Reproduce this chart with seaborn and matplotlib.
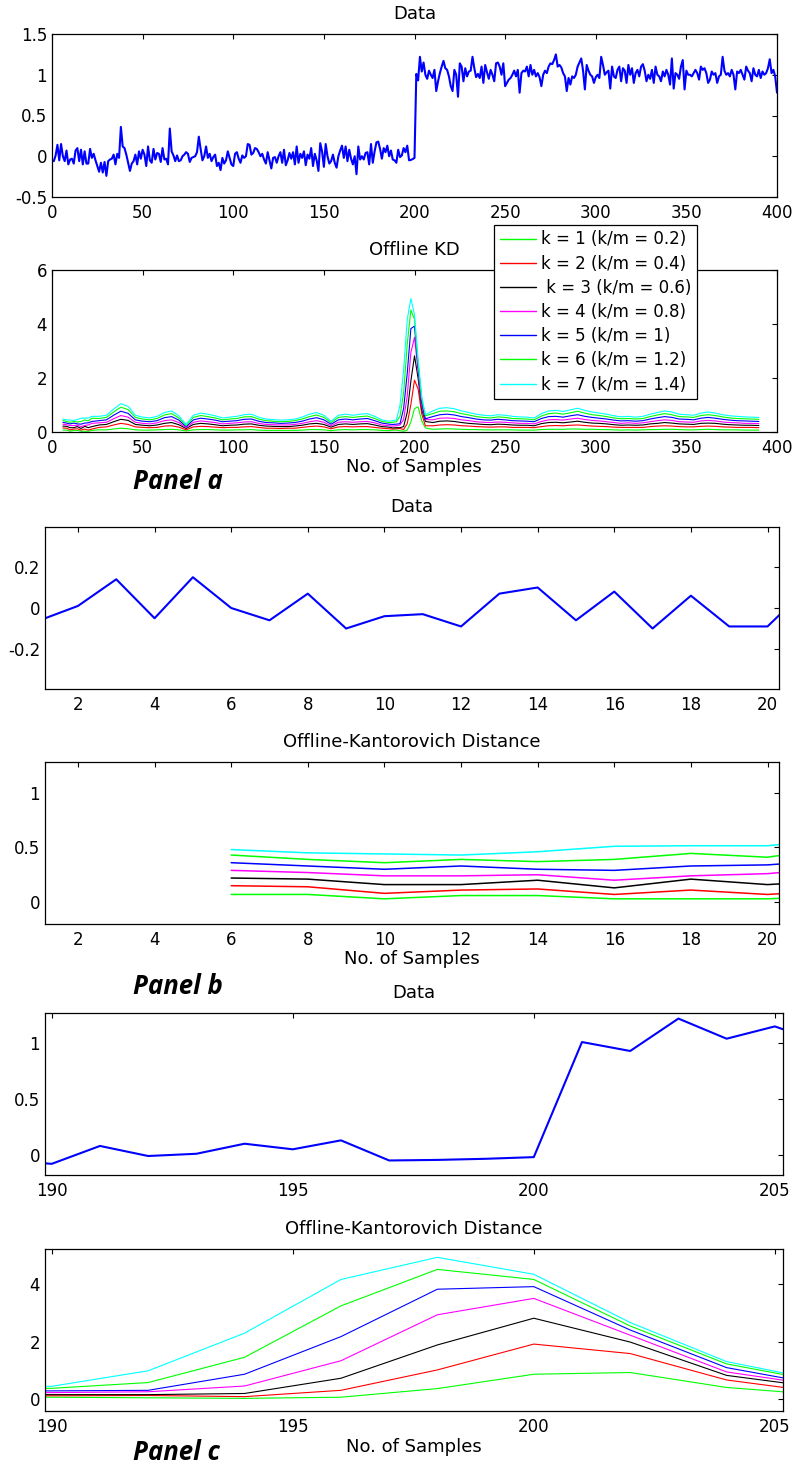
import matplotlib
matplotlib.use("Agg")
import matplotlib.pyplot as plt
from matplotlib.ticker import FuncFormatter
import seaborn as sns
import pandas as pd

# ---------------- data ----------------
data_values = [
    -0.06, 0.01, 0.14, -0.05, 0.15, 0.00, -0.06, 0.07, -0.10, -0.04, -0.03, -0.09, 0.07, 0.10, -0.06, 0.08, -0.10, 0.06, -0.09, -0.09,
    0.09, -0.02, 0.03, -0.05, -0.12, -0.19, -0.08, -0.20, -0.07, -0.24, -0.06, -0.04, -0.03, 0.02, -0.10, 0.03, -0.02, 0.36, 0.12, 0.10,
    0.02, -0.08, -0.18, -0.09, -0.06, 0.02, -0.10, 0.06, -0.03, 0.08, 0.02, -0.12, 0.12, -0.05, -0.08, 0.09, -0.04, 0.04, 0.03, -0.07,
    0.10, -0.04, -0.03, -0.10, 0.34, 0.06, 0.01, -0.06, 0.01, -0.06, -0.05, 0.00, 0.02, 0.05, 0.03, -0.07, -0.02, -0.01, 0.00, 0.05,
    0.24, 0.09, -0.05, 0.00, 0.12, -0.02, 0.03, -0.06, -0.01, 0.02, -0.12, -0.08, -0.17, -0.02, -0.09, -0.05, 0.06, -0.02, -0.10, -0.12,
    0.03, 0.05, -0.03, -0.08, 0.01, -0.02, 0.00, 0.15, 0.14, 0.02, 0.04, 0.10, 0.09, 0.05, 0.00, 0.03, -0.04, -0.09, 0.05, -0.05,
    -0.15, -0.02, -0.01, -0.08, 0.00, 0.05, -0.08, 0.08, -0.11, -0.05, 0.04, -0.03, 0.05, -0.10, 0.12, -0.08, 0.03, -0.02, 0.06, -0.11,
    0.02, -0.03, 0.10, -0.12, 0.03, -0.05, -0.18, 0.16, 0.06, -0.13, 0.15, 0.00, -0.09, -0.06, 0.02, -0.08, -0.14, 0.00, 0.07, 0.13,
    -0.02, 0.12, -0.06, 0.08, -0.03, -0.10, 0.00, -0.22, 0.12, -0.04, 0.00, -0.04, 0.04, 0.05, -0.10, 0.15, -0.08, 0.06, 0.17, 0.18,
    0.09, -0.03, 0.10, 0.05, 0.13, 0.00, 0.07, -0.04, -0.05, -0.08, 0.08, -0.01, 0.01, 0.10, 0.05, 0.13, -0.05, -0.045, -0.035, -0.02,
    1.01, 0.93, 1.22, 1.04, 1.15, 1.00, 0.95, 1.05, 1.00, 0.96, 1.06, 0.80, 0.92, 1.02, 1.10, 1.17, 1.08, 1.06, 0.98, 0.86,
    0.80, 1.06, 1.00, 0.73, 1.14, 1.10, 0.92, 1.08, 0.98, 1.04, 1.05, 1.22, 1.08, 0.97, 1.01, 0.96, 1.10, 0.90, 1.12, 1.03,
    0.95, 1.06, 1.00, 0.92, 1.14, 1.15, 1.10, 1.00, 1.14, 0.86, 0.90, 0.94, 0.96, 1.00, 1.05, 0.98, 1.06, 0.78, 1.02, 1.05,
    1.04, 1.10, 0.98, 1.12, 1.00, 1.06, 0.98, 1.02, 0.97, 0.86, 1.00, 1.05, 1.02, 1.10, 1.14, 1.13, 1.18, 1.25, 1.10, 1.12,
    1.09, 1.02, 0.98, 0.80, 0.96, 0.88, 0.98, 0.96, 1.00, 1.10, 1.15, 1.20, 1.05, 0.82, 1.12, 1.05, 1.00, 0.98, 0.90, 0.97,
    1.00, 0.96, 1.22, 1.12, 1.00, 1.03, 1.05, 0.83, 1.10, 0.98, 0.96, 1.06, 1.10, 0.92, 1.08, 1.05, 0.90, 1.12, 1.00, 1.08,
    0.90, 1.02, 1.06, 0.98, 1.10, 1.13, 1.05, 0.92, 1.00, 0.95, 1.06, 0.90, 1.10, 1.00, 0.98, 0.92, 1.04, 0.98, 1.06, 1.00,
    0.88, 1.20, 0.83, 1.02, 1.00, 0.95, 1.10, 1.18, 0.82, 1.05, 1.00, 1.00, 0.98, 1.02, 1.06, 1.02, 0.94, 1.10, 1.06, 1.08,
    1.02, 0.90, 0.94, 1.04, 1.00, 1.02, 0.90, 0.98, 1.00, 1.22, 1.05, 1.00, 1.02, 0.98, 1.06, 1.00, 0.82, 1.04, 1.02, 1.06,
    1.00, 0.94, 1.10, 1.05, 1.02, 0.92, 1.08, 1.00, 0.98, 1.06, 0.96, 1.04, 1.00, 1.02, 1.08, 1.19, 1.02, 1.06, 0.98, 0.78,
]
data_samples = list(range(1, len(data_values) + 1))

# Kantorovich distance: samples 6..22 (panel b)
kd_x_b = [6, 8, 10, 12, 14, 16, 18, 20, 22]
kd1_b = [0.07, 0.07, 0.03, 0.06, 0.06, 0.03, 0.03, 0.03, 0.06]
kd2_b = [0.15, 0.14, 0.08, 0.11, 0.12, 0.07, 0.11, 0.07, 0.11]
kd3_b = [0.22, 0.21, 0.16, 0.16, 0.20, 0.13, 0.21, 0.16, 0.20]
kd4_b = [0.29, 0.27, 0.24, 0.24, 0.25, 0.20, 0.24, 0.26, 0.32]
kd5_b = [0.36, 0.33, 0.30, 0.33, 0.30, 0.29, 0.33, 0.34, 0.39]
kd6_b = [0.43, 0.39, 0.36, 0.39, 0.37, 0.39, 0.445, 0.41, 0.51]
kd7_b = [0.48, 0.45, 0.44, 0.43, 0.46, 0.51, 0.515, 0.515, 0.58]

# samples 26..186 (step 4)
kd_x_left = list(range(26, 187, 4))
kd1_left = [0.08,0.08,0.11,0.14,0.12,0.08,0.07,0.07,0.08,0.09,0.10,0.08,0.04,0.08,0.09,0.09,0.08,0.07,0.07,0.08,0.08,0.09,0.07,0.06,0.06,0.06,0.06,0.06,0.07,0.09,0.09,0.08,0.05,0.08,0.09,0.08,0.09,0.09,0.08,0.06,0.05]
kd2_left = [0.17,0.19,0.26,0.32,0.28,0.19,0.17,0.16,0.17,0.22,0.23,0.18,0.08,0.19,0.21,0.20,0.18,0.16,0.17,0.17,0.19,0.20,0.17,0.14,0.14,0.13,0.14,0.14,0.17,0.20,0.22,0.19,0.12,0.19,0.20,0.19,0.20,0.20,0.17,0.14,0.12]
kd3_left = [0.26,0.28,0.38,0.47,0.43,0.28,0.25,0.23,0.26,0.32,0.35,0.27,0.13,0.28,0.32,0.30,0.27,0.23,0.25,0.26,0.29,0.30,0.25,0.22,0.21,0.20,0.20,0.22,0.25,0.30,0.32,0.28,0.18,0.28,0.30,0.28,0.30,0.31,0.26,0.20,0.18]
kd4_left = [0.34,0.36,0.49,0.61,0.55,0.36,0.32,0.30,0.34,0.42,0.45,0.35,0.16,0.36,0.41,0.38,0.35,0.30,0.32,0.34,0.37,0.38,0.32,0.28,0.27,0.26,0.26,0.28,0.32,0.38,0.42,0.36,0.23,0.36,0.38,0.36,0.38,0.39,0.34,0.26,0.23]
kd5_left = [0.42,0.45,0.62,0.77,0.69,0.45,0.40,0.38,0.42,0.53,0.57,0.44,0.20,0.45,0.51,0.48,0.44,0.38,0.40,0.42,0.47,0.48,0.40,0.35,0.34,0.32,0.33,0.35,0.40,0.48,0.53,0.45,0.29,0.45,0.48,0.45,0.48,0.50,0.42,0.33,0.29]
kd6_left = [0.50,0.54,0.74,0.92,0.83,0.54,0.48,0.45,0.50,0.63,0.68,0.52,0.24,0.54,0.61,0.57,0.52,0.45,0.48,0.50,0.56,0.57,0.48,0.42,0.40,0.38,0.39,0.42,0.48,0.57,0.63,0.54,0.35,0.54,0.57,0.54,0.57,0.59,0.50,0.39,0.35]
kd7_left = [0.58,0.62,0.85,1.05,0.95,0.62,0.55,0.52,0.58,0.72,0.78,0.60,0.28,0.62,0.70,0.66,0.60,0.52,0.55,0.58,0.64,0.66,0.55,0.48,0.46,0.44,0.45,0.48,0.55,0.66,0.72,0.62,0.40,0.62,0.66,0.62,0.66,0.68,0.58,0.45,0.40]

# samples 188..206 (panel c)
kd_x_c = [188, 190, 192, 194, 196, 198, 200, 202, 204, 206]
kd1_c = [0.07, 0.07, 0.05, 0.03, 0.07, 0.37, 0.87, 0.93, 0.41, 0.15]
kd2_c = [0.11, 0.12, 0.13, 0.09, 0.31, 1.02, 1.92, 1.59, 0.67, 0.23]
kd3_c = [0.15, 0.16, 0.16, 0.20, 0.73, 1.89, 2.82, 1.99, 0.83, 0.39]
kd4_c = [0.22, 0.23, 0.26, 0.46, 1.34, 2.94, 3.51, 2.23, 0.95, 0.46]
kd5_c = [0.28, 0.29, 0.31, 0.87, 2.18, 3.83, 3.92, 2.41, 1.10, 0.49]
kd6_c = [0.36, 0.38, 0.58, 1.46, 3.25, 4.52, 4.17, 2.55, 1.23, 0.60]
kd7_c = [0.42, 0.45, 0.99, 2.30, 4.17, 4.94, 4.35, 2.67, 1.31, 0.64]

# samples 210..390 (step 4)
kd_x_right = list(range(210, 391, 4))
kd1_right = [0.10,0.11,0.12,0.11,0.10,0.09,0.09,0.08,0.08,0.08,0.08,0.08,0.07,0.07,0.07,0.09,0.10,0.10,0.10,0.11,0.11,0.10,0.10,0.09,0.09,0.08,0.07,0.08,0.07,0.08,0.09,0.09,0.10,0.10,0.09,0.08,0.08,0.09,0.10,0.09,0.08,0.08,0.08,0.07,0.07,0.07]
kd2_right = [0.23,0.26,0.27,0.26,0.23,0.22,0.20,0.19,0.18,0.19,0.19,0.17,0.17,0.17,0.16,0.20,0.23,0.24,0.23,0.25,0.26,0.24,0.22,0.21,0.20,0.18,0.17,0.17,0.17,0.17,0.20,0.22,0.23,0.22,0.20,0.19,0.19,0.21,0.22,0.21,0.19,0.18,0.17,0.17,0.17,0.16]
kd3_right = [0.35,0.40,0.41,0.39,0.35,0.32,0.30,0.28,0.27,0.29,0.28,0.26,0.25,0.25,0.23,0.31,0.35,0.36,0.34,0.37,0.40,0.36,0.33,0.32,0.30,0.27,0.25,0.26,0.25,0.26,0.30,0.32,0.35,0.33,0.30,0.29,0.28,0.32,0.33,0.32,0.29,0.27,0.26,0.25,0.25,0.24]
kd4_right = [0.45,0.51,0.52,0.50,0.45,0.42,0.38,0.36,0.35,0.37,0.36,0.34,0.32,0.32,0.30,0.39,0.45,0.46,0.44,0.48,0.51,0.46,0.43,0.41,0.38,0.35,0.32,0.34,0.32,0.34,0.38,0.42,0.45,0.43,0.38,0.37,0.36,0.41,0.43,0.41,0.37,0.35,0.34,0.32,0.32,0.31]
kd5_right = [0.57,0.64,0.66,0.63,0.57,0.53,0.48,0.45,0.44,0.47,0.45,0.42,0.41,0.40,0.38,0.50,0.57,0.58,0.55,0.60,0.64,0.58,0.54,0.51,0.48,0.44,0.41,0.42,0.40,0.42,0.48,0.53,0.57,0.54,0.48,0.47,0.45,0.51,0.54,0.51,0.47,0.44,0.42,0.41,0.40,0.39]
kd6_right = [0.68,0.77,0.78,0.75,0.68,0.63,0.57,0.54,0.52,0.56,0.54,0.50,0.49,0.48,0.45,0.59,0.68,0.70,0.66,0.71,0.77,0.70,0.64,0.61,0.57,0.52,0.49,0.50,0.48,0.50,0.57,0.63,0.68,0.64,0.57,0.56,0.54,0.61,0.64,0.61,0.56,0.52,0.50,0.49,0.48,0.47]
kd7_right = [0.78,0.88,0.90,0.86,0.78,0.72,0.66,0.62,0.60,0.64,0.62,0.58,0.56,0.55,0.52,0.68,0.78,0.80,0.76,0.82,0.88,0.80,0.74,0.70,0.66,0.60,0.56,0.58,0.55,0.58,0.66,0.72,0.78,0.74,0.66,0.64,0.62,0.70,0.74,0.70,0.64,0.60,0.58,0.56,0.55,0.54]

series_labels = ["k = 1 (k/m = 0.2)", "k = 2 (k/m = 0.4)", " k = 3 (k/m = 0.6)",
                 "k = 4 (k/m = 0.8)", "k = 5 (k/m = 1)", "k = 6 (k/m = 1.2)", "k = 7 (k/m = 1.4)"]
series_colors = ["#00ff00", "#ff0000", "#000000", "#ff00ff", "#0000ff", "#00ff00", "#00ffff"]

kd_b = [kd1_b, kd2_b, kd3_b, kd4_b, kd5_b, kd6_b, kd7_b]
kd_left = [kd1_left, kd2_left, kd3_left, kd4_left, kd5_left, kd6_left, kd7_left]
kd_c = [kd1_c, kd2_c, kd3_c, kd4_c, kd5_c, kd6_c, kd7_c]
kd_right = [kd1_right, kd2_right, kd3_right, kd4_right, kd5_right, kd6_right, kd7_right]
kd_x_full = kd_x_b + kd_x_left + kd_x_c + kd_x_right
kd_full = [b + l + c + r for b, l, c, r in zip(kd_b, kd_left, kd_c, kd_right)]

# ---------------- figure ----------------
sns.set_theme(style="white")
plt.rcParams['font.family'] = ['DejaVu Sans']
plt.rcParams['axes.unicode_minus'] = False
plt.rcParams['text.color'] = 'black'
plt.rcParams['axes.labelcolor'] = 'black'
plt.rcParams['xtick.color'] = 'black'
plt.rcParams['ytick.color'] = 'black'

W, H = 797, 1466
fig = plt.figure(figsize=(W / 100, H / 100), dpi=100)


def rect(l, t, r, b):
    return [l / W, 1 - b / H, (r - l) / W, (b - t) / H]


fmt = FuncFormatter(lambda v, p: ('%g' % round(v, 6)) if abs(v) > 1e-9 else '0')

TICK_FS = 12
TITLE_FS = 13
LABEL_FS = 13
PANEL_FS = 18.5


def style(ax, title):
    ax.set_facecolor('white')
    for s in ax.spines.values():
        s.set_visible(True)
        s.set_color('black')
        s.set_linewidth(0.9)
    ax.tick_params(direction='in', length=3.5, width=0.8, top=True, right=True,
                   labelsize=TICK_FS, colors='black')
    ax.tick_params(axis='x', pad=5)
    ax.tick_params(axis='y', pad=3.5)
    ax.set_xlabel('')
    ax.set_ylabel('')
    ax.yaxis.set_major_formatter(fmt)
    ax.xaxis.set_major_formatter(fmt)
    ax.set_title(title, fontsize=TITLE_FS, pad=10.5, color='black')
    ax.grid(False)


def plot_kd(ax, xs, series, lw, legend=False):
    for ys, col, lab in zip(series, series_colors, series_labels):
        df = pd.DataFrame({'x': xs, 'y': ys})
        sns.lineplot(data=df, x='x', y='y', ax=ax, color=col, linewidth=lw,
                     label=lab if legend else None, legend=False)


def panel_label(text, y):
    fig.text(133 / W, 1 - y / H, text, ha='left', va='center', fontsize=PANEL_FS,
             fontweight='bold', fontstyle='italic', family=['Open Sans', 'DejaVu Sans'],
             color='black')


data_df = pd.DataFrame({'sample': data_samples, 'value': data_values})

# Panel a - data
ax1 = fig.add_axes(rect(52, 34, 777, 197))
sns.lineplot(data=data_df, x='sample', y='value', ax=ax1, color='#0000ff', linewidth=1.5)
ax1.set_xlim(0, 400)
ax1.set_ylim(-0.5, 1.5)
ax1.set_xticks(range(0, 401, 50))
ax1.set_yticks([-0.5, 0, 0.5, 1, 1.5])
style(ax1, 'Data')

# Panel a - KD
ax2 = fig.add_axes(rect(52, 270, 777, 432))
plot_kd(ax2, kd_x_full, kd_full, 0.8, legend=True)
ax2.set_xlim(0, 400)
ax2.set_ylim(0, 6)
ax2.set_xticks(range(0, 401, 50))
ax2.set_yticks([0, 2, 4, 6])
style(ax2, 'Offline KD')
leg = ax2.legend(loc='upper left', bbox_to_anchor=(494 / W, 1 - 225 / H),
                 bbox_transform=fig.transFigure, frameon=True, fancybox=False,
                 edgecolor='black', framealpha=1, fontsize=12, handlelength=2.2,
                 handletextpad=0.3, labelspacing=0.37, borderpad=0.33, borderaxespad=0)
leg.get_frame().set_linewidth(0.9)
for line in leg.get_lines():
    line.set_linewidth(1.0)
for t in leg.get_texts():
    t.set_color('black')
fig.text(414 / W, 1 - 467 / H, 'No. of Samples', ha='center', va='center', fontsize=LABEL_FS)
panel_label('Panel a', 482)

# Panel b - data
ax3 = fig.add_axes(rect(45, 527, 779, 689))
sns.lineplot(data=data_df[data_df['sample'] <= 21], x='sample', y='value', ax=ax3,
             color='#0000ff', linewidth=1.5)
ax3.set_xlim(1.14, 20.3)
ax3.set_ylim(-0.395, 0.395)
ax3.set_xticks(range(2, 21, 2))
ax3.set_yticks([-0.2, 0, 0.2])
style(ax3, 'Data')

# Panel b - KD
ax4 = fig.add_axes(rect(45, 762, 779, 924))
plot_kd(ax4, kd_x_b, kd_b, 1.1)
ax4.set_xlim(1.14, 20.3)
ax4.set_ylim(-0.2, 1.28)
ax4.set_xticks(range(2, 21, 2))
ax4.set_yticks([0, 0.5, 1])
style(ax4, 'Offline-Kantorovich Distance')
fig.text(412 / W, 1 - 959 / H, 'No. of Samples', ha='center', va='center', fontsize=LABEL_FS)
panel_label('Panel b', 987)

# Panel c - data
ax5 = fig.add_axes(rect(45, 1013, 783, 1175))
sel = (data_df['sample'] >= 189) & (data_df['sample'] <= 206)
sns.lineplot(data=data_df[sel], x='sample', y='value', ax=ax5, color='#0000ff', linewidth=1.5)
ax5.set_xlim(189.86, 205.17)
ax5.set_ylim(-0.18, 1.27)
ax5.set_xticks([190, 195, 200, 205])
ax5.set_yticks([0, 0.5, 1])
style(ax5, 'Data')

# Panel c - KD
ax6 = fig.add_axes(rect(45, 1249, 783, 1411))
plot_kd(ax6, kd_x_c, kd_c, 0.8)
ax6.set_xlim(189.86, 205.17)
ax6.set_ylim(-0.41, 5.23)
ax6.set_xticks([190, 195, 200, 205])
ax6.set_yticks([0, 2, 4])
style(ax6, 'Offline-Kantorovich Distance')
fig.text(414 / W, 1 - 1447 / H, 'No. of Samples', ha='center', va='center', fontsize=LABEL_FS)
panel_label('Panel c', 1453)

fig.savefig('out.png', dpi=100, facecolor='white')
